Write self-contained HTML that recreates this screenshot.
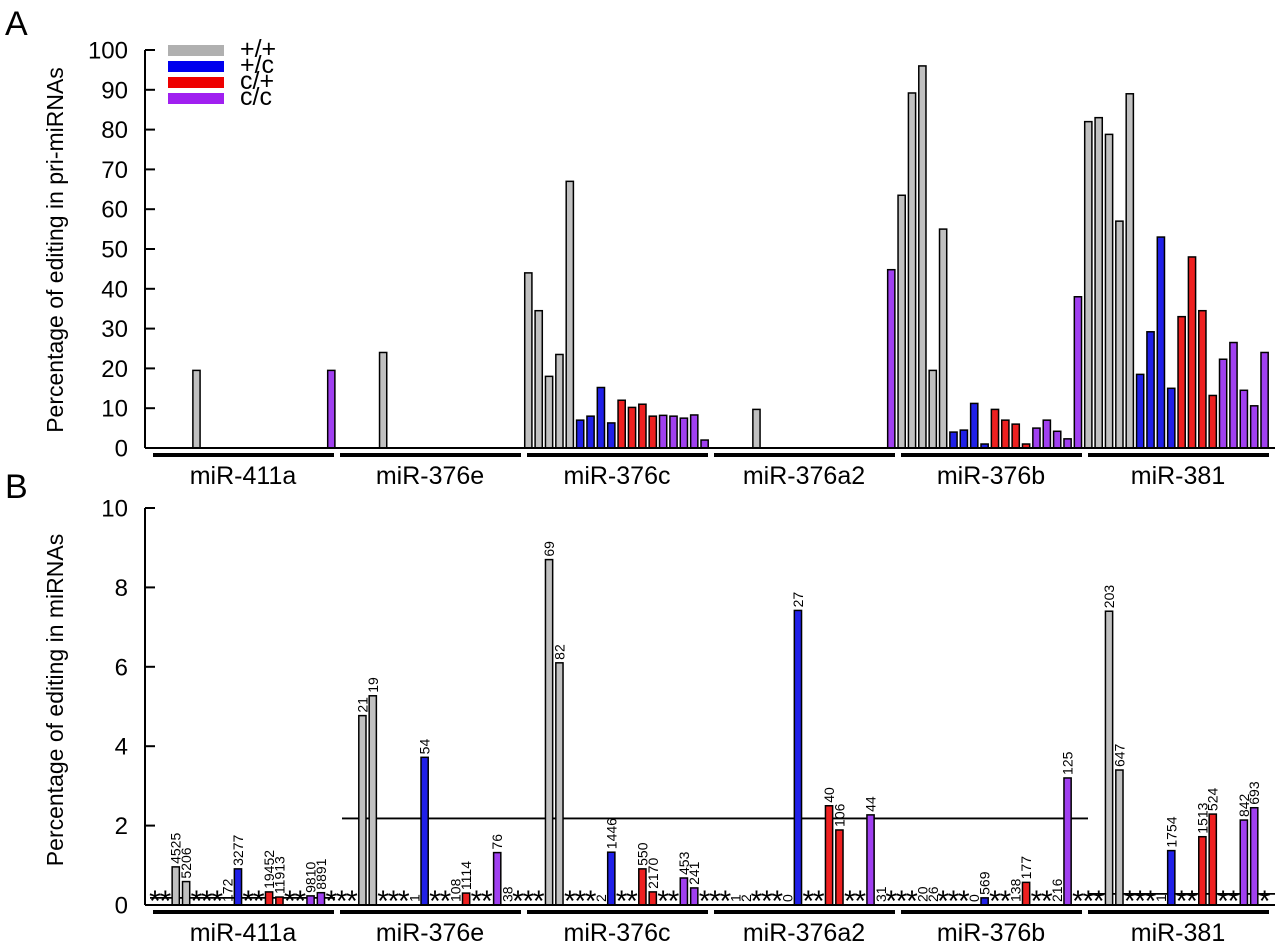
<!DOCTYPE html>
<html><head><meta charset="utf-8"><style>
body{margin:0;background:#fff}
svg{display:block;font-family:"Liberation Sans",sans-serif}
</style></head><body>
<svg id="chart" width="1280" height="947" viewBox="0 0 1280 947" xmlns="http://www.w3.org/2000/svg">
<text x="5" y="35" font-size="34">A</text>
<text x="5" y="498" font-size="34">B</text>
<text transform="translate(63,250) rotate(-90)" text-anchor="middle" font-size="23">Percentage of editing in pri-miRNAs</text>
<text transform="translate(63,700) rotate(-90)" text-anchor="middle" font-size="23">Percentage of editing in miRNAs</text>
<g>
<rect x="168" y="45" width="56" height="11" fill="#b0b0b0"/>
<rect x="168" y="61" width="56" height="11" fill="#0000ee"/>
<rect x="168" y="77" width="56" height="11" fill="#ee0000"/>
<rect x="168" y="93" width="56" height="11" fill="#a020f0"/>
<text x="240" y="57" font-size="25">+/+</text>
<text x="240" y="73" font-size="25">+/c</text>
<text x="240" y="89" font-size="25">c/+</text>
<text x="240" y="105" font-size="25">c/c</text>
</g>
</svg>
<script>
const groups = ["miR-411a","miR-376e","miR-376c","miR-376a2","miR-376b","miR-381"];
const slotColors = ["#c0c0c0","#c0c0c0","#c0c0c0","#c0c0c0","#c0c0c0","#2020e8","#2020e8","#2020e8","#2020e8","#ee2020","#ee2020","#ee2020","#ee2020","#a040f0","#a040f0","#a040f0","#a040f0","#a040f0"];
const priG0 = [null,null,null,null,19.5,null,null,null,null,null,null,null,null,null,null,null,null,19.5];
const priG1 = [null,null,null,null,24,null,null,null,null,null,null,null,null,null,null,null,null,null];
const priG2 = [44,34.5,18,23.5,67,7,8,15.2,6.3,12,10.2,11,8,8.2,8,7.5,8.3,2];
const priG3 = [null,null,null,null,9.7,null,null,null,null,null,null,null,null,null,null,null,null,44.8];
const priG4 = [63.5,89.2,96,19.5,55,4,4.5,11.2,1,9.7,7,6,1,5,7,4.2,2.3,38];
const priG5 = [82,83,78.8,57,89,18.5,29.2,53,15,33,48,34.5,13.2,22.3,26.5,14.5,10.6,24];
const priValues = [priG0,priG1,priG2,priG3,priG4,priG5];
const priTicks = [0,10,20,30,40,50,60,70,80,90,100];
const miG0 = [null,null,0.96,0.59,null,null,null,0,0.91,null,null,0.33,0.2,null,null,0.23,0.31,null];
const miG1 = [null,null,4.77,5.27,null,null,null,0,3.72,null,null,0,0.3,null,null,1.32,0,null];
const miG2 = [null,null,8.7,6.1,null,null,null,0,1.33,null,null,0.91,0.33,null,null,0.68,0.43,null];
const miG3 = [null,null,0,0,null,null,null,0,7.42,null,null,2.5,1.89,null,null,2.27,0,null];
const miG4 = [null,null,0,0,null,null,null,0,0.18,null,null,0,0.57,null,null,0,3.2,null];
const miG5 = [null,null,7.4,3.4,null,null,null,0,1.37,null,null,1.72,2.29,null,null,2.14,2.45,null];
const miValues = [miG0,miG1,miG2,miG3,miG4,miG5];
const miLab0 = ["","","4525","5206","","","","172","3277","","","19452","11913","","","9810","8891",""];
const miLab1 = ["","","21","19","","","","1","54","","","108","1114","","","76","38",""];
const miLab2 = ["","","69","82","","","","2","1446","","","550","2170","","","453","241",""];
const miLab3 = ["","","1","2","","","","0","27","","","40","106","","","44","31",""];
const miLab4 = ["","","20","26","","","","0","569","","","138","177","","","216","125",""];
const miLab5 = ["","","203","647","","","","1","1754","","","1513","524","","","842","693",""];
const miLabels = [miLab0,miLab1,miLab2,miLab3,miLab4,miLab5];
const miColorsB = ["","","#c0c0c0","#c0c0c0","","","","","#2020e8","","","#ee2020","#ee2020","","","#a040f0","#a040f0",""];
const miTicks = [0,2,4,6,8,10];
const refGroupStart = [0,1,5];
const refGroupEnd = [0,4,5];
const refValues = [0.18,2.18,0.28];

const svg = document.getElementById('chart');
const NS = "http://www.w3.org/2000/svg";
function mk(tag, attrs){const e=document.createElementNS(NS,tag);for(const k in attrs)e.setAttribute(k,attrs[k]);svg.appendChild(e);return e;}
const slotX = k => 155 + k*10.37;
const groupX = g => 153 + g*187;
const yA = v => 448 - v*3.98;
const yB = v => 905 - v*39.7;

[[yA,priTicks,448,'a'],[yB,miTicks,905,'b']].forEach(([ys,ticks,base,p])=>{
  const ax=mk('line',{x1:145,x2:145,y1:ys(ticks[ticks.length-1]),y2:base,stroke:'#000','stroke-width':2});
  
  
  ticks.forEach(t=>{
    const tl=mk('line',{x1:145,x2:155,y1:ys(t),y2:ys(t),stroke:'#000','stroke-width':2});
    
    
    const tx=mk('text',{x:128,y:ys(t)+8.5,'text-anchor':'end','font-size':24});
    tx.textContent=t;
    
    
  });
  groups.forEach((g,i)=>{
    const ul=mk('line',{x1:groupX(i),x2:groupX(i)+181,y1:base+7,y2:base+7,stroke:'#000','stroke-width':4});
    
    
    const gl=mk('text',{x:groupX(i)+90,y:base+36,'text-anchor':'middle','font-size':25});
    gl.textContent=g;
    
    
  });
});

priValues.forEach((arr,g)=>arr.forEach((v,i)=>{
  if(v===null) return;
  const cx=slotX(g*18+i);
  const r=mk('rect',{x:cx-3.6,y:yA(v),width:7.2,height:448-yA(v),fill:slotColors[i],stroke:'#000','stroke-width':1.5});
  
  
}));
const baseA=mk('line',{x1:145,x2:1275,y1:448,y2:448,stroke:'#000','stroke-width':2});



refValues.forEach((v,i)=>{
  const x1=i===0?150:(i===2?groupX(refGroupStart[i]):groupX(refGroupStart[i])+2);
  const x2=i===0?335:(i===2?1275:groupX(refGroupEnd[i])+187);
  const l=mk('line',{x1:x1,x2:x2,y1:yB(v),y2:yB(v),stroke:'#000','stroke-width':1.8});
  
  
});

miValues.forEach((arr,g)=>arr.forEach((v,i)=>{
  const cx=slotX(g*18+i);
  if(v===null){
    const s=mk('text',{x:cx,y:911,'text-anchor':'middle','font-size':30});
    s.textContent='*';
    
    
    return;
  }
  let top=905;
  if(v>0){
    top=yB(v);
    const r=mk('rect',{x:cx-3.6,y:top,width:7.2,height:905-top,fill:miColorsB[i],stroke:'#000','stroke-width':1.5});
    
    
  }
  const lab=miLabels[g][i];
  if(lab){
    const t=mk('text',{transform:`translate(${cx+5},${top-3}) rotate(-90)`,'font-size':14});
    t.textContent=lab;
    
    
  }
}));
const baseB=mk('line',{x1:145,x2:1275,y1:905,y2:905,stroke:'#000','stroke-width':2});


</script>
</body></html>
